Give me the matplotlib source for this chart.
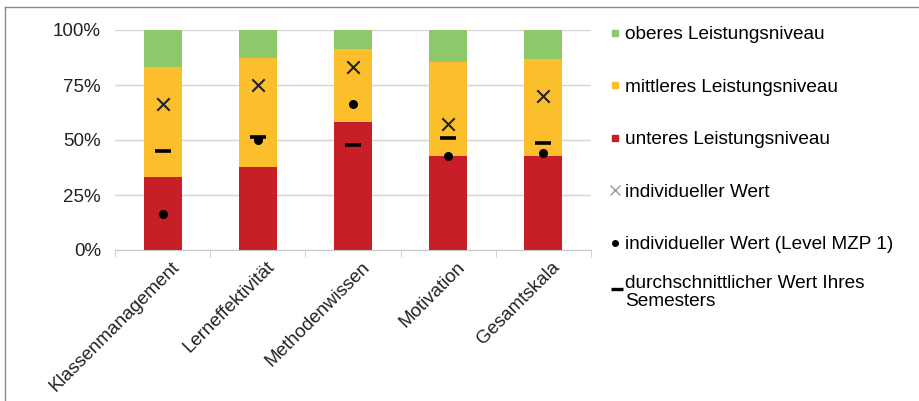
import numpy as np
import matplotlib
matplotlib.use("Agg")
from matplotlib import pyplot as plt
from matplotlib.lines import Line2D
from matplotlib.ticker import FuncFormatter
from matplotlib.transforms import ScaledTranslation

plt.rcParams['font.family'] = ['Liberation Sans', 'DejaVu Sans']

categories = ["Klassenmanagement", "Lerneffektivität", "Methodenwissen", "Motivation", "Gesamtskala"]
unteres = [33.2, 37.8, 58.3, 42.9, 42.7]
mittleres = [50.2, 49.5, 32.9, 42.6, 43.9]
oberes = [16.6, 12.7, 8.8, 14.5, 13.4]
individuell = [66.5, 74.8, 83.1, 57.1, 70.2]
individuell_mzp1 = [16.2, 49.8, 66.5, 42.7, 44.1]
durchschnitt = [45.0, 51.4, 47.6, 50.8, 48.6]

col_red = "#c71e28"
col_yellow = "#fbbf2b"
col_green = "#8dc86b"

fig = plt.figure(figsize=(9.19, 4.01), dpi=100)
ax = fig.add_axes([115/919, 1-250/401, (591-115)/919, 220/401])

x = np.arange(len(categories))
w = 0.4
ax.bar(x, unteres, w, color=col_red, zorder=2)
ax.bar(x, mittleres, w, bottom=unteres, color=col_yellow, zorder=2)
bot2 = np.array(unteres) + np.array(mittleres)
ax.bar(x, oberes, w, bottom=bot2, color=col_green, zorder=2)

ax.scatter(x, individuell, marker="x", s=80, color="#222222", linewidths=1.5, zorder=3)
ax.scatter(x, individuell_mzp1, marker="o", s=30, color="black", zorder=3)
ax.scatter(x, durchschnitt, marker="_", s=120, color="black", linewidths=2.6, zorder=3)

ax.set_ylim(0, 100)
ax.set_xlim(-0.5, 4.5)
ax.set_yticks([0, 25, 50, 75, 100])
ax.yaxis.set_major_formatter(FuncFormatter(lambda v, p: "{:d}%".format(int(v))))
ax.grid(axis="y", color="#d4d4d4", linewidth=1, zorder=0)
for s in ["top", "right", "left"]:
    ax.spines[s].set_visible(False)
ax.spines["bottom"].set_color("#c8c8c8")
ax.tick_params(axis="y", length=0, labelsize=13.5, pad=10, colors="#222222")

ax.set_xticks(x)
ax.set_xticklabels(categories, rotation=45, ha="right", rotation_mode="anchor", fontsize=13.5, color="#222222")
ax.tick_params(axis="x", which="major", length=0, pad=6)
ax.set_xticks(np.arange(-0.5, 5, 1), minor=True)
ax.tick_params(axis="x", which="minor", length=5, color="#c8c8c8")
# nudge rotated labels a little to the right, as in the original
shift = ScaledTranslation(8/100, 0, fig.dpi_scale_trans)
for lab in ax.get_xticklabels():
    lab.set_transform(lab.get_transform() + shift)

handles = [
    Line2D([], [], marker="s", color=col_green, linestyle="none", markersize=5),
    Line2D([], [], marker="s", color=col_yellow, linestyle="none", markersize=5),
    Line2D([], [], marker="s", color=col_red, linestyle="none", markersize=5),
    Line2D([], [], marker="x", color="#999999", linestyle="none", markersize=7),
    Line2D([], [], marker="o", color="black", linestyle="none", markersize=4),
]
labels = ["oberes Leistungsniveau", "mittleres Leistungsniveau", "unteres Leistungsniveau",
          "individueller Wert", "individueller Wert (Level MZP 1)"]
fig.legend(handles, labels, loc="upper left", bbox_to_anchor=(611/919, 1-26/401),
           frameon=False, fontsize=13.7, labelspacing=1.85, handlelength=0.45,
           handletextpad=0.3, borderaxespad=0, borderpad=0)

# last legend entry: dash sits at the baseline of the first text line
fig.text(625/919, 1-275/401, "durchschnittlicher Wert Ihres\nSemesters", fontsize=13.7,
         va="top", ha="left", linespacing=1.05)
fig.add_artist(Line2D([617/919], [1-289/401], marker="_", color="black", markersize=9,
                      markeredgewidth=2.4, linestyle="none"))

# outer frame (top and left only)
fig.add_artist(Line2D([5/919, 1], [1-7/401, 1-7/401], color="#8a8a8a", linewidth=1))
fig.add_artist(Line2D([5/919, 5/919], [0, 1-7/401], color="#8a8a8a", linewidth=1))

fig.savefig("out.png", dpi=100)
